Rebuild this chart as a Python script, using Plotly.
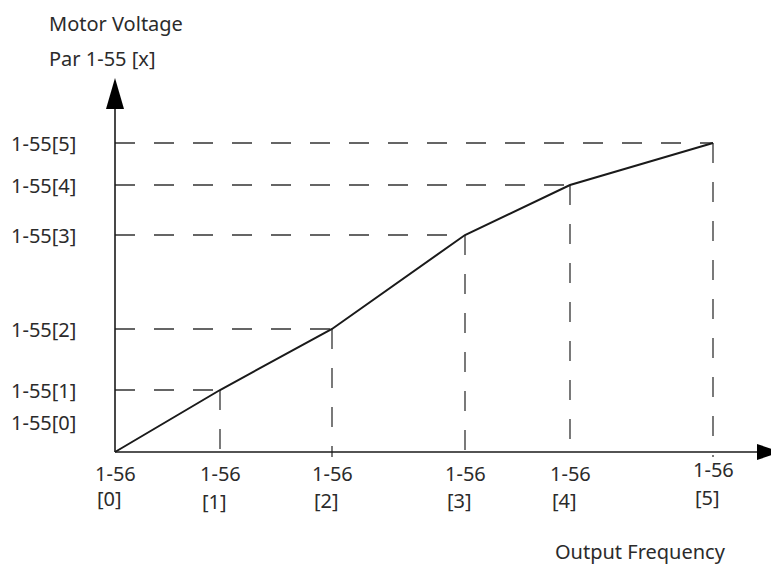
import plotly.graph_objects as go

# Data (relative units)
freq = [0, 105, 217, 350, 455, 598]
volt = [0, 62, 123, 217, 267, 309]
idx = ["0", "1", "2", "3", "4", "5"]
y_labels = ["1-55[0]", "1-55[1]", "1-55[2]", "1-55[3]", "1-55[4]", "1-55[5]"]
y_label_pos = [30, 62, 123, 217, 267, 309]
x_top = "1-56"
x_top_off = [-21, -21, -21, -21, -21, -17]
x_bot_off = [-46, -49, -48, -48, -48, -45]

# page has an 8px body margin, so the figure is 771x557
X_MIN, X_MAX = -107, 664
Y_MIN, Y_MAX = -113, 444
X_AXIS_END = 664
Y_AXIS_END = 374

FONT = "Noto Sans"
TXT = "#2b2b2b"
LINE = "#1a1a1a"

fig = go.Figure()

# dashed guides
for f, v in zip(freq[1:], volt[1:]):
    fig.add_trace(go.Scatter(x=[0, f], y=[v, v], mode="lines",
                             line=dict(color="#333333", width=1.3, dash="20px,19px"),
                             hoverinfo="skip", showlegend=False))
    fig.add_trace(go.Scatter(x=[f, f], y=[v, -5], mode="lines",
                             line=dict(color="#333333", width=1.3, dash="20px,19px"),
                             hoverinfo="skip", showlegend=False))

# axes lines
fig.add_trace(go.Scatter(x=[0, X_AXIS_END - 20], y=[0, 0], mode="lines",
                         line=dict(color=LINE, width=1.6), hoverinfo="skip", showlegend=False))
fig.add_trace(go.Scatter(x=[0, 0], y=[0, Y_AXIS_END - 25], mode="lines",
                         line=dict(color=LINE, width=1.6), hoverinfo="skip", showlegend=False))
# arrow heads
fig.add_trace(go.Scatter(x=[X_AXIS_END - 22, X_AXIS_END + 2, X_AXIS_END - 22, X_AXIS_END - 22],
                         y=[8, 0, -8, 8], mode="lines", fill="toself", fillcolor="black",
                         line=dict(color="black", width=0), hoverinfo="skip", showlegend=False))
fig.add_trace(go.Scatter(x=[-9, 0, 9, -9],
                         y=[Y_AXIS_END - 31, Y_AXIS_END, Y_AXIS_END - 31, Y_AXIS_END - 31],
                         mode="lines", fill="toself", fillcolor="black",
                         line=dict(color="black", width=0), hoverinfo="skip", showlegend=False))

# main curve
fig.add_trace(go.Scatter(x=freq, y=volt, mode="lines",
                         line=dict(color=LINE, width=2), hoverinfo="skip", showlegend=False))

ann = []
for lab, yp in zip(y_labels, y_label_pos):
    ann.append(dict(x=-37, y=yp, text=lab, xanchor="right", yanchor="middle",
                    showarrow=False, font=dict(family=FONT, size=20, color=TXT)))
for f, i, t, b in zip(freq, idx, x_top_off, x_bot_off):
    ann.append(dict(x=f, y=t, text=x_top, xanchor="center", yanchor="middle",
                    showarrow=False, font=dict(family=FONT, size=20, color=TXT)))
    ann.append(dict(x=f - 20, y=b, text="[" + i + "]", xanchor="left", yanchor="middle",
                    showarrow=False, font=dict(family=FONT, size=20, color=TXT)))
ann.append(dict(x=525, y=-99, text="Output Frequency", xanchor="center", yanchor="middle",
                showarrow=False, font=dict(family=FONT, size=20, color=TXT)))
ann.append(dict(x=-68, y=429, text="Motor Voltage", xanchor="left", yanchor="middle",
                showarrow=False, font=dict(family=FONT, size=20, color=TXT)))
ann.append(dict(x=-68, y=394, text="Par 1-55 [x]", xanchor="left", yanchor="middle",
                showarrow=False, font=dict(family=FONT, size=20, color=TXT)))

fig.update_layout(
    width=771, height=557,
    margin=dict(l=0, r=0, t=0, b=0),
    paper_bgcolor="white", plot_bgcolor="white",
    xaxis=dict(range=[X_MIN, X_MAX], visible=False, fixedrange=True),
    yaxis=dict(range=[Y_MIN, Y_MAX], visible=False, fixedrange=True),
    annotations=ann,
)

fig.write_html("out.html")
